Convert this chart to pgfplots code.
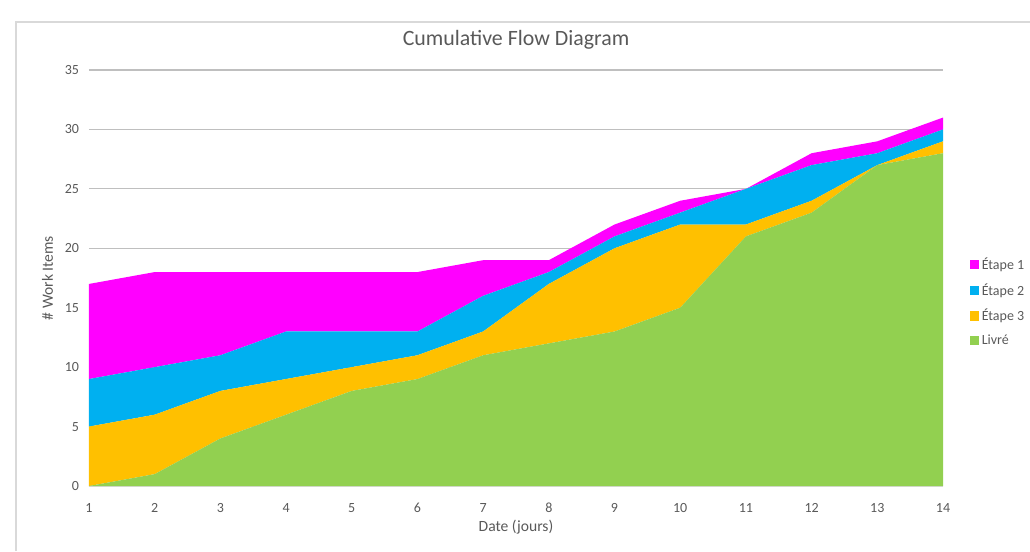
\documentclass[border=0pt]{standalone}
\usepackage{fontspec}
\setmainfont{Carlito}
\usepackage{pgfplots}
\pgfplotsset{compat=1.18}
\definecolor{etapeA}{HTML}{FF00FF}
\definecolor{etapeB}{HTML}{00B0F0}
\definecolor{etapeC}{HTML}{FFC000}
\definecolor{livre}{HTML}{92D050}
\definecolor{txt}{HTML}{595959}
\definecolor{grid}{HTML}{D9D9D9}
\begin{document}
\begin{tikzpicture}
\useasboundingbox (-66.75pt,-48.75pt) rectangle (705.75pt,364.5pt);
\draw[grid, line width=0.8pt] (-54.75pt,-48.75pt) -- (-54.75pt,348pt) -- (705.75pt,348pt);
\begin{axis}[
	at={(0,0)}, anchor=south west,
	scale only axis,
	width=640.5pt, height=312pt,
	xmin=1, xmax=14, ymin=0, ymax=35,
	xtick={1,...,14}, ytick={0,5,...,35},
	stack plots=y,
	axis x line*=bottom, axis y line*=left,
	y axis line style={draw=none},
	x axis line style={grid, line width=0.8pt, -},
	xmajorgrids=false, ymajorgrids=true,
	grid style={grid, line width=0.8pt},
	major tick length=0pt,
	ticklabel style={font=\fontsize{10.5}{12}\selectfont, text=txt},
	/pgf/number format/assume math mode=true,
	yticklabel style={xshift=-4pt},
	xticklabel style={yshift=-9.5pt},
	xlabel={Date (jours)}, ylabel={\# Work Items},
	label style={font=\fontsize{11.7}{14}\selectfont, text=txt},
	xlabel style={yshift=1.5pt},
	ylabel style={yshift=2pt},
	title={Cumulative Flow Diagram},
	title style={font=\fontsize{16.4}{19}\selectfont, text=txt, yshift=6pt},
	reverse legend,
	legend style={at={(1.031,0.442)}, anchor=west, draw=none, fill=none,
		font=\fontsize{10.5}{12}\selectfont, text=txt, row sep=5pt,
		inner sep=0pt},
	legend cell align=left,
	legend image code/.code={\fill[#1] (0pt,-3.5pt) rectangle (7pt,3.5pt);},
]
\addplot[fill=livre, draw=none] coordinates {
	(1,0) (2,1) (3,4) (4,6) (5,8) (6,9) (7,11) (8,12) (9,13) (10,15) (11,21) (12,23) (13,27) (14,28)
} \closedcycle;
\addlegendentry{Livré}
\addplot[fill=etapeC, draw=none] coordinates {
	(1,5) (2,5) (3,4) (4,3) (5,2) (6,2) (7,2) (8,5) (9,7) (10,7) (11,1) (12,1) (13,0) (14,1)
} \closedcycle;
\addlegendentry{Étape 3}
\addplot[fill=etapeB, draw=none] coordinates {
	(1,4) (2,4) (3,3) (4,4) (5,3) (6,2) (7,3) (8,1) (9,1) (10,1) (11,3) (12,3) (13,1) (14,1)
} \closedcycle;
\addlegendentry{Étape 2}
\addplot[fill=etapeA, draw=none] coordinates {
	(1,8) (2,8) (3,7) (4,5) (5,5) (6,5) (7,3) (8,1) (9,1) (10,1) (11,0) (12,1) (13,1) (14,1)
} \closedcycle;
\addlegendentry{Étape 1}
\end{axis}
\end{tikzpicture}
\end{document}
